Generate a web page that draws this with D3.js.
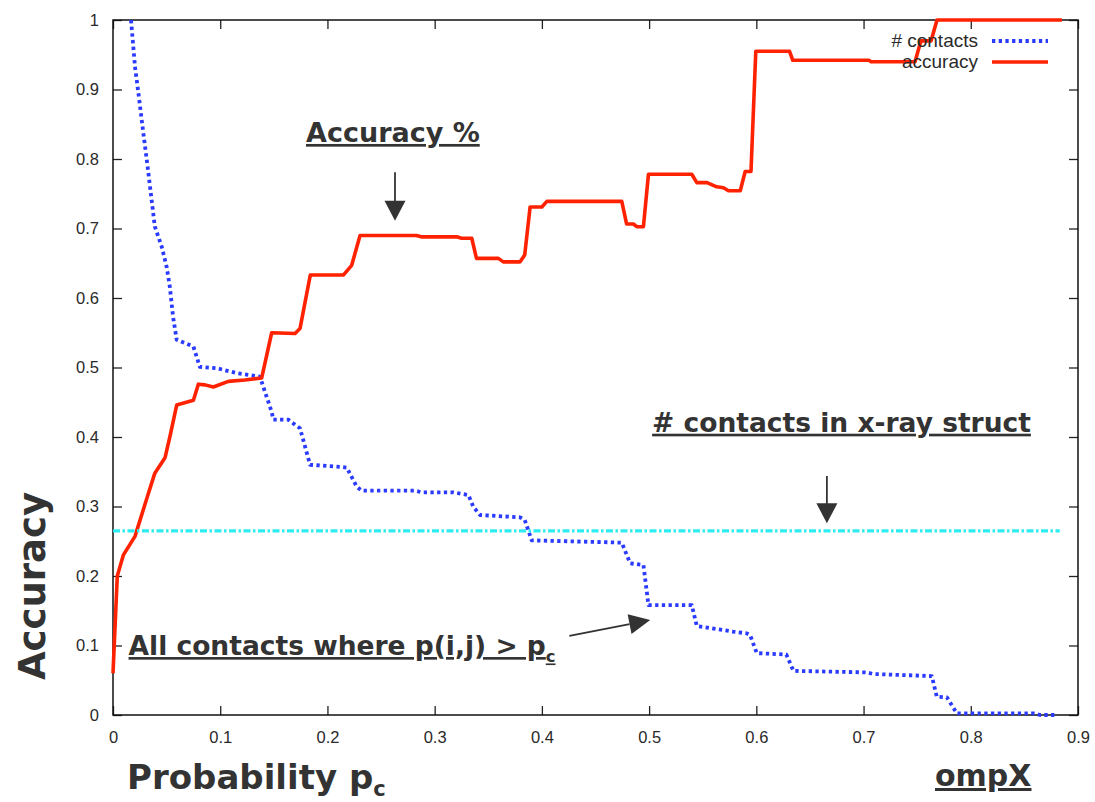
<!DOCTYPE html>
<html>
<head>
<meta charset="utf-8">
<script src="https://cdn.jsdelivr.net/npm/d3@7"></script>
<style>
  html, body { margin: 0; padding: 0; background: #fff; }
  svg { display: block; }
</style>
</head>
<body>
<svg id="chart" width="1095" height="802"></svg>
<script>
// ---------- data ----------
const xTicks = [0, 0.1, 0.2, 0.3, 0.4, 0.5, 0.6, 0.7, 0.8, 0.9];
const yTicks = [0, 0.1, 0.2, 0.3, 0.4, 0.5, 0.6, 0.7, 0.8, 0.9, 1];
const seriesNames = ["# contacts", "accuracy"];

const accuracyX = [0, 0.004, 0.0096, 0.0205, 0.031, 0.039, 0.0485, 0.053, 0.0594, 0.075, 0.0796, 0.0858, 0.0936, 0.1076, 0.123, 0.1387, 0.148, 0.1698, 0.1744, 0.184, 0.2148, 0.2226, 0.2304, 0.283, 0.2875, 0.3206, 0.325, 0.3346, 0.339, 0.3594, 0.364, 0.3797, 0.384, 0.389, 0.40, 0.4046, 0.4745, 0.479, 0.4854, 0.4885, 0.4947, 0.4994, 0.5398, 0.5445, 0.554, 0.563, 0.5693, 0.574, 0.585, 0.5896, 0.595, 0.5995, 0.631, 0.634, 0.705, 0.707, 0.748, 0.7535, 0.763, 0.7685, 0.885];
const accuracyY = [0.06, 0.20, 0.23, 0.257, 0.309, 0.348, 0.37, 0.40, 0.446, 0.453, 0.476, 0.475, 0.472, 0.48, 0.482, 0.485, 0.55, 0.549, 0.556, 0.633, 0.633, 0.647, 0.69, 0.69, 0.688, 0.688, 0.686, 0.686, 0.657, 0.657, 0.652, 0.652, 0.662, 0.731, 0.731, 0.739, 0.739, 0.7065, 0.7065, 0.7026, 0.7026, 0.778, 0.778, 0.766, 0.766, 0.760, 0.7587, 0.7544, 0.7544, 0.782, 0.782, 0.955, 0.955, 0.942, 0.942, 0.94, 0.94, 0.97, 0.97, 1.0, 1.0];

const contactsX = [0.0168, 0.0205, 0.0245, 0.0283, 0.0323, 0.036, 0.039, 0.0454, 0.05, 0.053, 0.056, 0.0594, 0.075, 0.081, 0.0967, 0.1154, 0.137, 0.148, 0.1495, 0.1635, 0.1744, 0.1838, 0.2118, 0.218, 0.2273, 0.232, 0.2817, 0.288, 0.3175, 0.3315, 0.336, 0.3423, 0.3797, 0.384, 0.3905, 0.4745, 0.4823, 0.4947, 0.4994, 0.5398, 0.5445, 0.578, 0.5911, 0.5942, 0.6004, 0.628, 0.6346, 0.703, 0.709, 0.7637, 0.7683, 0.7777, 0.787, 0.8585, 0.8647, 0.88];
const contactsY = [1.0, 0.933, 0.885, 0.837, 0.789, 0.741, 0.703, 0.674, 0.645, 0.616, 0.573, 0.54, 0.53, 0.501, 0.499, 0.492, 0.487, 0.436, 0.425, 0.425, 0.4125, 0.36, 0.357, 0.356, 0.3285, 0.3227, 0.3227, 0.3204, 0.3204, 0.3165, 0.2997, 0.2878, 0.2844, 0.2806, 0.2513, 0.248, 0.2183, 0.2158, 0.158, 0.158, 0.128, 0.12, 0.1175, 0.115, 0.089, 0.087, 0.0635, 0.0613, 0.059, 0.056, 0.0263, 0.0254, 0.0024, 0.0024, 0.0, 0.0];

const xrayContacts = 0.265;
const xrayRange = [0, 0.883];

// ---------- layout ----------
const margin = {left: 113, top: 20, right: 17, bottom: 87};
const W = 1095, H = 802;
const iw = W - margin.left - margin.right;   // 965
const ih = H - margin.top - margin.bottom;   // 695

const svg = d3.select("#chart");
const x = d3.scaleLinear().domain([0, 0.9]).range([margin.left, margin.left + iw]);
const y = d3.scaleLinear().domain([0, 1]).range([margin.top + ih, margin.top]);

const tickFont = "'Liberation Sans', Arial, Helvetica, sans-serif";
const boldFont = "'DejaVu Sans', Verdana, sans-serif";
const ink = "#333";

// axes (ticks pointing inward, mirrored)
function styleAxis(g) {
  g.select(".domain").remove();
  g.selectAll(".tick line").attr("stroke", "#222").attr("stroke-width", 1.3);
  g.selectAll(".tick text").attr("fill", "#2a2a2a").style("font-family", tickFont).style("font-size", "16.5px");
}
svg.append("g").attr("transform", `translate(0,${margin.top + ih})`)
  .call(d3.axisBottom(x).tickValues(xTicks).tickSizeInner(-9).tickSizeOuter(0).tickPadding(16).tickFormat(d3.format("")))
  .call(styleAxis);
svg.append("g").attr("transform", `translate(0,${margin.top})`)
  .call(d3.axisTop(x).tickValues(xTicks).tickSizeInner(-9).tickSizeOuter(0).tickFormat(""))
  .call(styleAxis);
svg.append("g").attr("transform", `translate(${margin.left},0)`)
  .call(d3.axisLeft(y).tickValues(yTicks).tickSizeInner(-9).tickSizeOuter(0).tickPadding(14).tickFormat(d3.format("")))
  .call(styleAxis);
svg.append("g").attr("transform", `translate(${margin.left + iw},0)`)
  .call(d3.axisRight(y).tickValues(yTicks).tickSizeInner(-9).tickSizeOuter(0).tickFormat(""))
  .call(styleAxis);

// frame
svg.append("rect").attr("x", margin.left).attr("y", margin.top).attr("width", iw).attr("height", ih)
  .attr("fill", "none").attr("stroke", "#111").attr("stroke-width", 1.5);

// series
const line = d3.line().x(d => x(d[0])).y(d => y(d[1]));
const contacts = contactsX.map((v, i) => [v, contactsY[i]]);
const accuracy = accuracyX.map((v, i) => [v, accuracyY[i]]);

const blue = "#2a3aff", red = "#ff2200", cyan = "#2eecf0";
const dotDash = "3.3 3.4";

svg.append("path").datum(contacts).attr("d", line)
  .attr("fill", "none").attr("stroke", blue).attr("stroke-width", 3.8)
  .attr("stroke-dasharray", dotDash).attr("stroke-linejoin", "round");

svg.append("path").datum(accuracy).attr("d", line)
  .attr("fill", "none").attr("stroke", red).attr("stroke-width", 3.6)
  .attr("stroke-linejoin", "round");

svg.append("path").datum(xrayRange.map(v => [v, xrayContacts])).attr("d", line)
  .attr("fill", "none").attr("stroke", cyan).attr("stroke-width", 3.4)
  .attr("stroke-dasharray", "7 2.5 2.5 2.5");

// legend
const legend = svg.append("g");
const legendItems = [
  {name: seriesNames[0], color: blue, dash: dotDash, w: 3.8, ty: 47, ly: 41},
  {name: seriesNames[1], color: red, dash: null, w: 3.6, ty: 68, ly: 62}
];
legendItems.forEach(it => {
  legend.append("text").attr("x", 978).attr("y", it.ty).attr("text-anchor", "end")
    .style("font-family", tickFont).style("font-size", "19px").attr("fill", "#2a2a2a").text(it.name);
  legend.append("line").attr("x1", 992).attr("x2", 1048).attr("y1", it.ly).attr("y2", it.ly)
    .attr("stroke", it.color).attr("stroke-width", it.w).attr("stroke-dasharray", it.dash);
});

// annotations
function arrowDown(xv, y0, y1) {
  const px = x(xv), pa = y(y0), pb = y(y1);
  svg.append("line").attr("x1", px).attr("x2", px).attr("y1", pa).attr("y2", pb - 18)
    .attr("stroke", ink).attr("stroke-width", 1.8);
  svg.append("path").attr("d", `M${px - 10.5},${pb - 20} L${px + 10.5},${pb - 20} L${px},${pb} Z`).attr("fill", ink);
}
function arrowTo(x0, y0, x1, y1) {
  const ax = x(x0), ay = y(y0), bx = x(x1), by = y(y1);
  const ang = Math.atan2(by - ay, bx - ax);
  const L = 21, hw = 10;
  const cx = bx - L * Math.cos(ang), cy = by - L * Math.sin(ang);
  svg.append("line").attr("x1", ax).attr("y1", ay).attr("x2", cx).attr("y2", cy)
    .attr("stroke", ink).attr("stroke-width", 1.8);
  svg.append("path").attr("d",
    `M${bx},${by} L${cx + hw * Math.sin(ang)},${cy - hw * Math.cos(ang)} L${cx - hw * Math.sin(ang)},${cy + hw * Math.cos(ang)} Z`)
    .attr("fill", ink);
}
function label(px, py, size, parts, underline, subShift) {
  const t = svg.append("text").attr("x", px).attr("y", py)
    .style("font-family", boldFont).style("font-weight", "bold").style("font-size", size + "px")
    .attr("fill", ink);
  if (underline) t.style("text-decoration", "underline");
  parts.forEach(p => {
    const ts = t.append("tspan").text(p.t);
    if (p.sub) ts.style("font-size", (size * 0.62) + "px").attr("dy", size * (subShift || 0.28));
  });
  return t;
}

label(x(0.18), y(0.8245), 27, [{t: "Accuracy %"}], true);
arrowDown(0.263, 0.781, 0.711);

label(x(0.5028), y(0.4076), 26.5, [{t: "# contacts in x-ray struct"}], true);
arrowDown(0.6658, 0.3439, 0.2758);

label(x(0.0145), y(0.0863), 26.5, [{t: "All contacts where p(i,j) > p"}, {t: "c", sub: true}], true);
arrowTo(0.4256, 0.1137, 0.501, 0.1367);

// axis titles
label(127, 789, 34, [{t: "Probability p"}, {t: "c", sub: true}], false, 0.2);
svg.append("text").attr("transform", `translate(45,${586}) rotate(-90)`).attr("text-anchor", "middle")
  .style("font-family", boldFont).style("font-weight", "bold").style("font-size", "37px")
  .attr("fill", ink).text("Accuracy");
label(935, 786, 30, [{t: "ompX"}], true);
</script>
</body>
</html>
